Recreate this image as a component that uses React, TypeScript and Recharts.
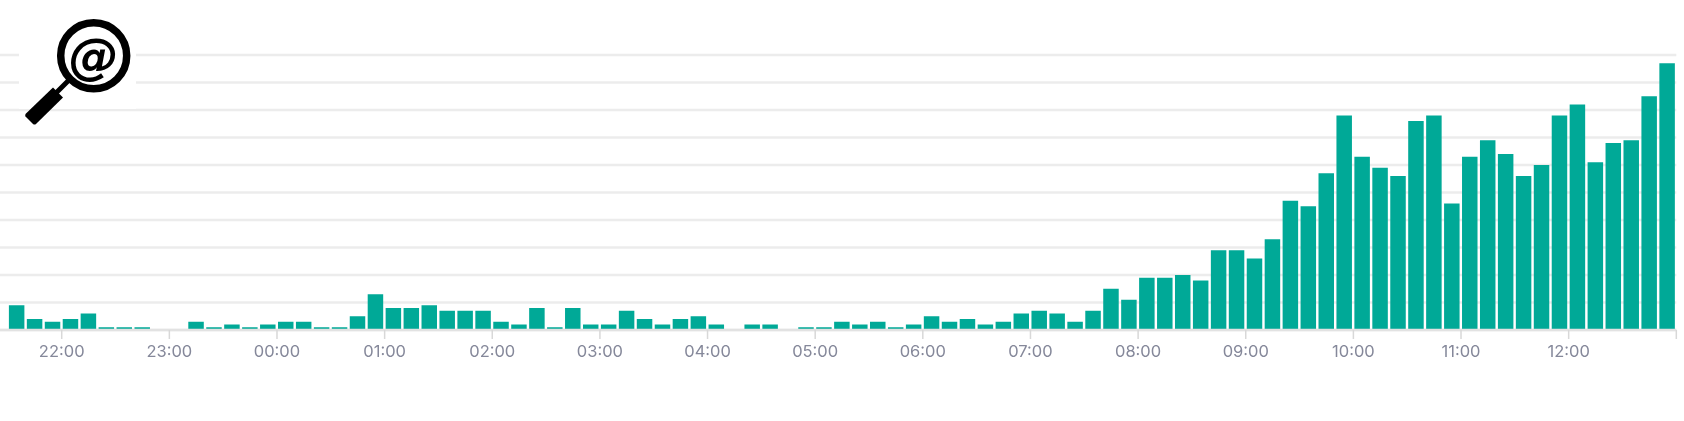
import React from 'react';
import { BarChart, Bar, XAxis, YAxis, CartesianGrid } from 'recharts';

// counts per 10 minute bucket, starting at 21:30
const counts = [
  9, 4, 3, 4, 6, 1, 1, 1, 0, 0, 3, 1, 2, 1, 2, 3, 3, 1, 1, 5, 13,
  8, 8, 9, 7, 7, 7, 3, 2, 8, 1, 8, 2, 2, 7, 4, 2, 4, 5, 2, 0,
  2, 2, 0, 1, 1, 3, 2, 3, 1, 2, 5, 3, 4, 2, 3, 6, 7, 6, 3, 7,
  15, 11, 19, 19, 20, 18, 29, 29, 26, 33, 47, 45, 57, 78, 63, 59, 56, 76, 78, 46,
  63, 69, 64, 56, 60, 78, 82, 61, 68, 69, 85, 97,
];
const hourLabels = [
  '22:00', '23:00', '00:00', '01:00', '02:00', '03:00', '04:00', '05:00',
  '06:00', '07:00', '08:00', '09:00', '10:00', '11:00', '12:00', '',
];
const yTicks = [0, 10, 20, 30, 40, 50, 60, 70, 80, 90, 100];

const data = counts.map((count, i) => ({ slot: i + 0.5, count }));
const hourTicks = hourLabels.map((_, i) => 3 + i * 6);

const Logo = () => (
  <div style={{ position: 'absolute', left: 19, top: 0, width: 117, height: 109, background: '#fff' }}>
    <svg width={117} height={125} style={{ overflow: 'visible' }}>
      <circle cx={74.7} cy={55.7} r={33} fill="#fff" stroke="#000" strokeWidth={7.5} />
      <line x1={50} y1={80} x2={36} y2={94} stroke="#000" strokeWidth={5} />
      <path d="M34 87.5 L44 97.5 L17 124 Q15.5 125 14 124 L6.5 116.5 Q5.5 115 7 113.5 Z" fill="#000" />
      <text
        x={74.7}
        y={73}
        textAnchor="middle"
        fontFamily="DejaVu Sans"
        fontWeight="bold"
        fontStyle="italic"
        fontSize={50}
        fill="#000"
      >
        @
      </text>
    </svg>
  </div>
);

export default function App() {
  return (
    <div style={{ position: 'absolute', left: 0, top: 0, width: 1684, height: 421, background: '#fff', filter: 'blur(0.5px)' }}>
      <BarChart width={1684} height={421} data={data} margin={{ top: 55, right: 7.7, bottom: 0, left: 0 }}>
        <CartesianGrid vertical={false} stroke="#ececec" strokeWidth={2.5} />
        <XAxis
          dataKey="slot"
          type="number"
          domain={[-0.44, 93]}
          ticks={hourTicks}
          interval={0}
          height={91}
          tickSize={9}
          tickMargin={6}
          tickLine={{ stroke: '#d8d8d8', strokeWidth: 1.5 }}
          axisLine={{ stroke: '#e2e2e2', strokeWidth: 2.5 }}
          tickFormatter={(_: number, i: number) => hourLabels[i]}
          tick={{ fill: '#85889a', fontSize: 16.5, fontFamily: 'Inter' }}
        />
        <YAxis hide domain={[0, 100]} ticks={yTicks} />
        <Bar dataKey="count" fill="#00a997" barSize={15.5} isAnimationActive={false} />
      </BarChart>
      <Logo />
    </div>
  );
}
